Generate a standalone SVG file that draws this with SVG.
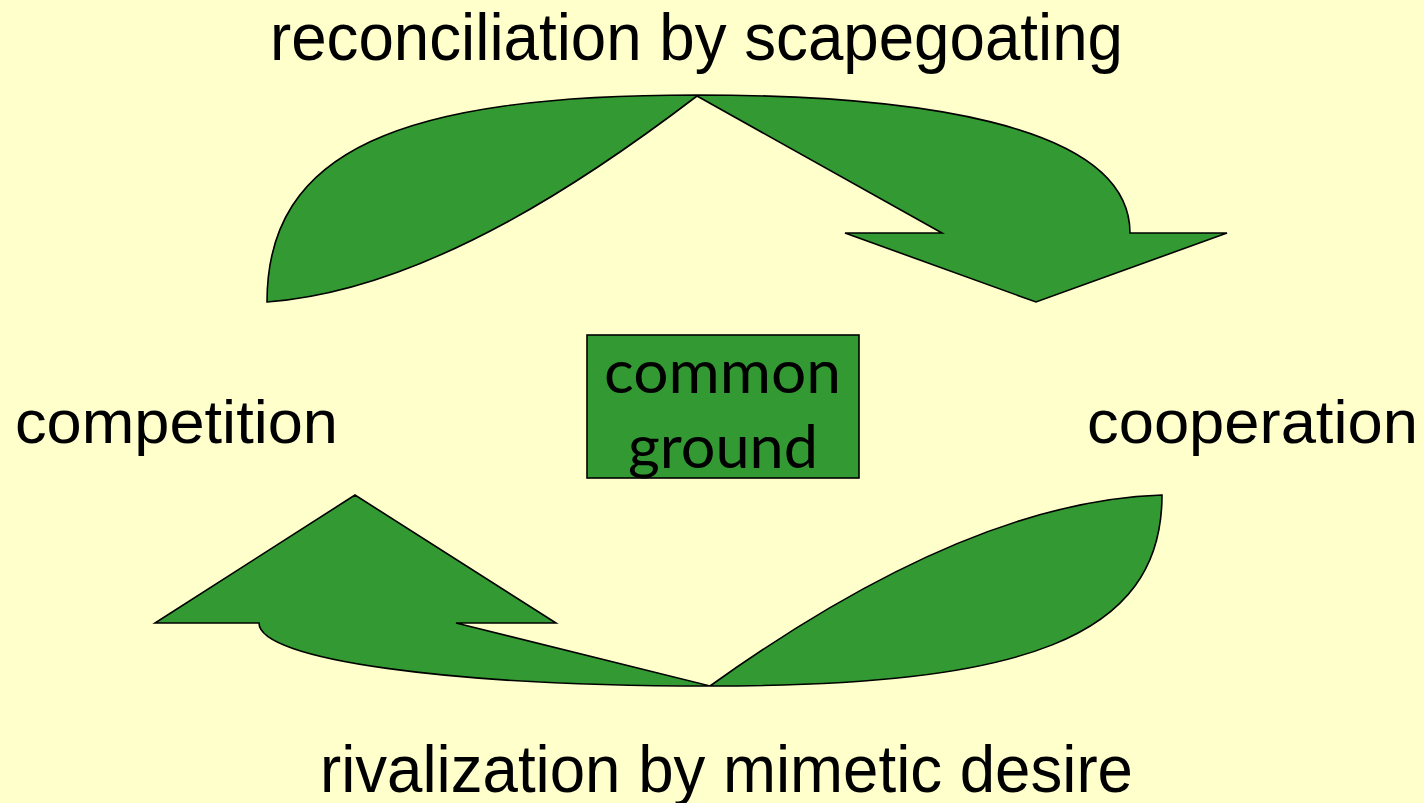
<svg xmlns="http://www.w3.org/2000/svg" width="1424" height="803" viewBox="0 0 1424 803">
  <style>
    .shape { fill: #339933; stroke: #000000; stroke-width: 1.6; stroke-linejoin: miter; }
    .label { font-family: "Liberation Sans", Arial, sans-serif; fill: #000000; }
    .boxtext { font-family: Lato, "Open Sans", sans-serif; font-size: 60px; fill: #000000; text-anchor: middle; }
  </style>
  <rect x="0" y="0" width="1424" height="803" fill="#FFFFCC"/>

  <!-- curved arrows of the cycle -->
  <g id="connectors">
    <path id="arrow-top" class="shape" d="M267,302 C267,150 400,95 697,95 C900,95 1130,120 1130,233 L1227,233 L1036,302 L845,233 L942,233 L697,96 C600,170 430,290 267,302 Z"/>
    <path id="arrow-bottom" class="shape" d="M1162,495 C1162,640 1020,686 710,686 C450,686 259,660 259,623 L155,623 L355,495 L556,623 L456,623 L710,686 C830,600 1000,500 1162,495 Z"/>
  </g>

  <g id="label-reconciliation">
    <text class="label" x="270" y="60" font-size="66" textLength="853" lengthAdjust="spacingAndGlyphs">reconciliation by scapegoating</text>
  </g>

  <g id="label-rivalization">
    <text class="label" x="320" y="792" font-size="66" textLength="813" lengthAdjust="spacingAndGlyphs">rivalization by mimetic desire</text>
  </g>

  <g id="node-competition">
    <text class="label" x="15" y="443" font-size="62" textLength="323" lengthAdjust="spacingAndGlyphs">competition</text>
  </g>

  <g id="node-cooperation">
    <text class="label" x="1087" y="443" font-size="62" textLength="331" lengthAdjust="spacingAndGlyphs">cooperation</text>
  </g>

  <g id="node-common-ground">
    <rect class="shape" x="587" y="335" width="272" height="143"/>
    <text class="boxtext" x="722.5" y="393" textLength="237" lengthAdjust="spacingAndGlyphs">common</text>
    <text class="boxtext" x="723" y="468" textLength="190" lengthAdjust="spacingAndGlyphs">ground</text>
  </g>
</svg>
